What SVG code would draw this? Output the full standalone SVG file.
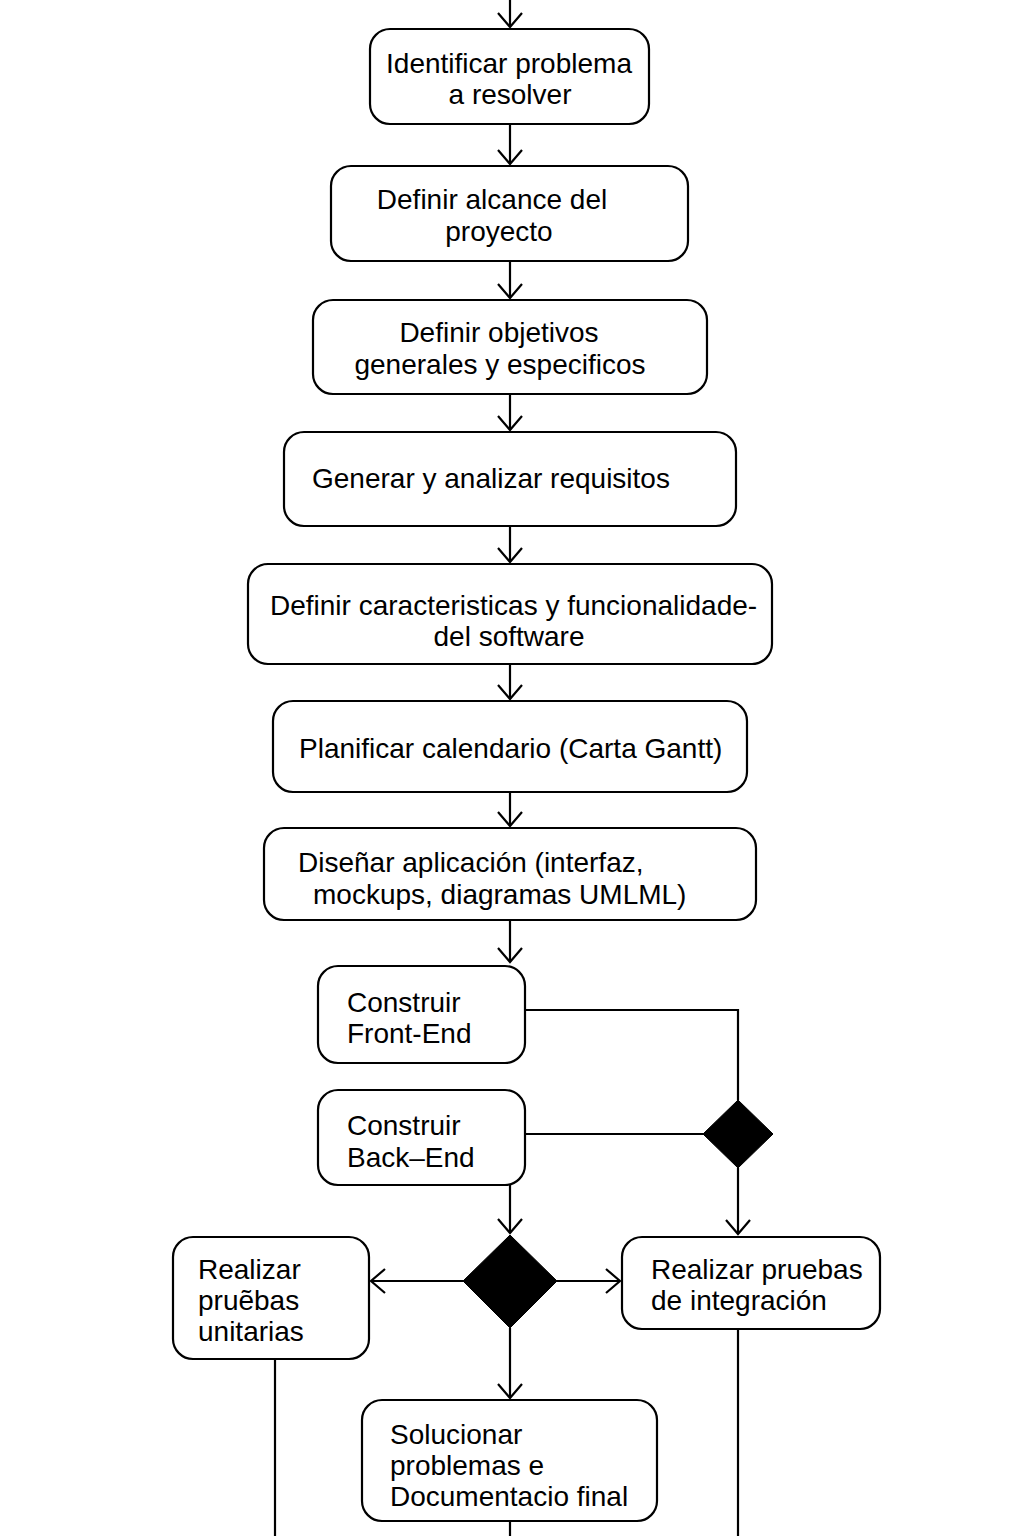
<svg xmlns="http://www.w3.org/2000/svg" width="1024" height="1536" viewBox="0 0 1024 1536">
<style>
.box{fill:#fff;stroke:#000;stroke-width:2.2}
.dia{fill:#000;stroke:#000;stroke-width:1}
text{font-family:"Liberation Sans",Arial,sans-serif;font-size:28px;fill:#000}
.c{text-anchor:middle}
.ln{fill:none;stroke:#000;stroke-width:2.2}
</style>
<defs>
<marker id="arr" markerUnits="userSpaceOnUse" markerWidth="30" markerHeight="30" viewBox="-15 -15 30 30" refX="0" refY="0" orient="auto">
<path d="M-14,-12 L0,0 L-14,12" fill="none" stroke="#000" stroke-width="2.2"/>
</marker>
</defs>
<rect width="1024" height="1536" fill="#fff"/>
<g id="connectors">
<path class="ln" d="M510,0 V27" marker-end="url(#arr)"/>
<path class="ln" d="M510,124 V164" marker-end="url(#arr)"/>
<path class="ln" d="M510,261 V298" marker-end="url(#arr)"/>
<path class="ln" d="M510,394 V430" marker-end="url(#arr)"/>
<path class="ln" d="M510,526 V562" marker-end="url(#arr)"/>
<path class="ln" d="M510,664 V699" marker-end="url(#arr)"/>
<path class="ln" d="M510,792 V826" marker-end="url(#arr)"/>
<path class="ln" d="M510,920 V962" marker-end="url(#arr)"/>
<path class="ln" d="M525,1010 H738 V1100"/>
<path class="ln" d="M525,1134 H704"/>
<path class="ln" d="M738,1168 V1234" marker-end="url(#arr)"/>
<path class="ln" d="M510,1185 V1233" marker-end="url(#arr)"/>
<path class="ln" d="M463,1281 H371" marker-end="url(#arr)"/>
<path class="ln" d="M557,1281 H620" marker-end="url(#arr)"/>
<path class="ln" d="M510,1328 V1398" marker-end="url(#arr)"/>
<path class="ln" d="M275,1359 V1536"/>
<path class="ln" d="M738,1329 V1536"/>
<path class="ln" d="M510,1521 V1536"/>
</g>
<g id="n1"><rect class="box" x="370" y="29" width="279" height="95" rx="20"/><text class="c" x="509" y="73">Identificar problema</text><text class="c" x="510" y="104">a resolver</text></g>
<g id="n2"><rect class="box" x="331" y="166" width="357" height="95" rx="20"/><text class="c" x="492" y="209">Definir alcance del</text><text class="c" x="499" y="241">proyecto</text></g>
<g id="n3"><rect class="box" x="313" y="300" width="394" height="94" rx="20"/><text class="c" x="499" y="342">Definir objetivos</text><text class="c" x="500" y="374">generales y especificos</text></g>
<g id="n4"><rect class="box" x="284" y="432" width="452" height="94" rx="20"/><text x="312" y="488">Generar y analizar requisitos</text></g>
<g id="n5"><rect class="box" x="248" y="564" width="524" height="100" rx="20"/><text x="270" y="615">Definir caracteristicas y funcionalidade-</text><text class="c" x="509" y="646">del software</text></g>
<g id="n6"><rect class="box" x="273" y="701" width="474" height="91" rx="20"/><text x="299" y="758">Planificar calendario (Carta Gantt)</text></g>
<g id="n7"><rect class="box" x="264" y="828" width="492" height="92" rx="20"/><text x="298" y="872">Diseñar aplicación (interfaz,</text><text x="313" y="904">mockups, diagramas UMLML)</text></g>
<g id="n8"><rect class="box" x="318" y="966" width="207" height="97" rx="20"/><text x="347" y="1012">Construir</text><text x="347" y="1043">Front-End</text></g>
<g id="n9"><rect class="box" x="318" y="1090" width="207" height="95" rx="20"/><text x="347" y="1135">Construir</text><text x="347" y="1167">Back–End</text></g>
<g id="d1"><path class="dia" d="M738,1100 L773,1134 L738,1168 L703,1134 Z"/></g>
<g id="d2"><path class="dia" d="M510,1235 L557,1281 L510,1328 L463,1281 Z"/></g>
<g id="n10"><rect class="box" x="173" y="1237" width="196" height="122" rx="20"/><text x="198" y="1279">Realizar</text><text x="198" y="1310">pruẽbas</text><text x="198" y="1341">unitarias</text></g>
<g id="n11"><rect class="box" x="622" y="1237" width="258" height="92" rx="20"/><text x="651" y="1279">Realizar pruebas</text><text x="651" y="1310">de integración</text></g>
<g id="n12"><rect class="box" x="362" y="1400" width="295" height="121" rx="20"/><text x="390" y="1444">Solucionar</text><text x="390" y="1475">problemas e</text><text x="390" y="1506">Documentacio final</text></g>
</svg>
